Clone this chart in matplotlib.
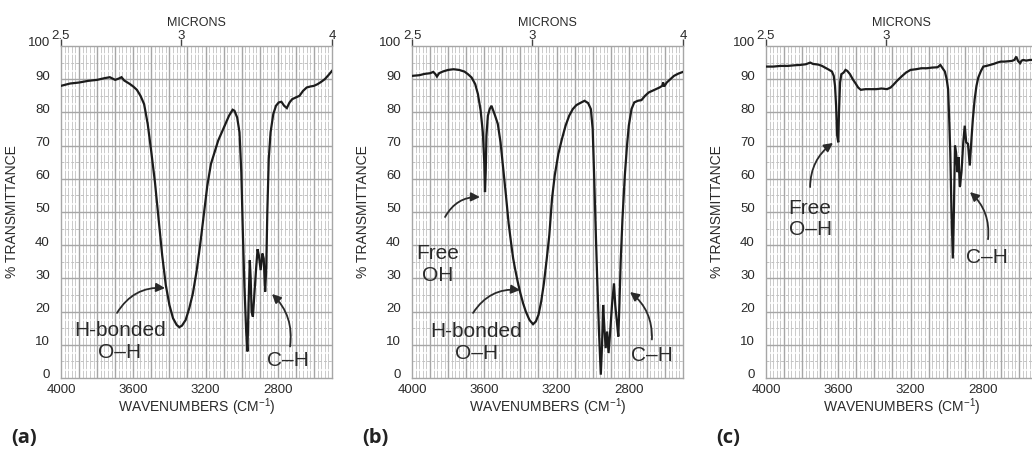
import numpy as np
import matplotlib
matplotlib.use("Agg")
import matplotlib.pyplot as plt
import matplotlib.transforms as mtransforms

plt.rcParams['font.family'] = ['Liberation Sans', 'DejaVu Sans']
plt.rcParams['mathtext.default'] = 'regular'

# ---- spectra (wavenumber cm-1, % transmittance) ----
wn_a = [4000, 3950, 3900, 3850, 3800, 3760, 3730, 3700, 3680, 3665, 3650, 3620, 3600,
        3580, 3560, 3540, 3520, 3500, 3480, 3460, 3440, 3420, 3400, 3380, 3360, 3345,
        3330, 3310, 3290, 3270, 3250, 3230, 3210, 3190, 3170, 3150, 3130, 3110, 3090,
        3070, 3050, 3040, 3025, 3012, 3002, 2994, 2985, 2975, 2968, 2962, 2955, 2950,
        2945, 2938, 2930, 2920, 2912, 2905, 2895, 2885, 2878, 2870, 2864, 2858, 2850,
        2840, 2825, 2810, 2795, 2780, 2765, 2750, 2735, 2720, 2700, 2680, 2660, 2640,
        2620, 2600, 2580, 2560, 2540, 2520, 2500]
tr_a = [88.0, 88.7, 89.0, 89.5, 89.8, 90.3, 90.6, 89.8, 90.2, 90.6, 89.6, 88.6, 87.8,
        86.8, 85.0, 82.5, 76.5, 68.0, 59.0, 48.0, 37.0, 28.0, 22.0, 18.0, 16.0, 15.3,
        15.8, 17.5, 21.0, 25.5, 32.0, 40.0, 49.0, 58.0, 64.5, 68.0, 71.5, 74.0, 76.5,
        79.0, 80.8, 80.5, 78.5, 74.0, 62.0, 45.0, 28.0, 14.0, 8.0, 22.0, 35.5, 30.0,
        20.0, 18.5, 25.0, 33.0, 38.8, 37.0, 32.5, 37.5, 36.0, 26.0, 33.0, 50.0, 66.0,
        74.0, 79.5, 82.0, 83.0, 83.2, 82.0, 81.3, 83.0, 84.0, 84.5, 85.0, 86.5, 87.5,
        87.8, 88.0, 88.5, 89.2, 90.0, 91.2, 92.5]

wn_b = [4000, 3960, 3930, 3900, 3882, 3870, 3862, 3850, 3830, 3800, 3770, 3740, 3710,
        3690, 3670, 3650, 3635, 3620, 3608, 3600, 3596, 3592, 3588, 3580, 3570, 3560,
        3550, 3540, 3525, 3510, 3495, 3480, 3465, 3450, 3440, 3430, 3415, 3400, 3385,
        3370, 3350, 3330, 3315, 3300, 3285, 3270, 3255, 3240, 3225, 3210, 3190, 3170,
        3150, 3130, 3110, 3090, 3070, 3045, 3025, 3010, 3000, 2993, 2985, 2975, 2965,
        2955, 2948, 2942, 2935, 2928, 2920, 2912, 2903, 2893, 2882, 2875, 2866, 2858,
        2852, 2845, 2835, 2822, 2810, 2800, 2785, 2770, 2750, 2730, 2710, 2690, 2670,
        2650, 2630, 2615, 2610, 2604, 2590, 2570, 2550, 2525, 2500]
tr_b = [91.0, 91.2, 91.6, 91.8, 92.2, 91.5, 90.8, 91.8, 92.3, 92.8, 93.0, 92.8, 92.3,
        91.5, 90.5, 88.5, 85.5, 80.5, 74.0, 65.0, 56.0, 62.0, 73.0, 79.0, 81.0, 82.0,
        80.5, 79.0, 76.5, 71.0, 63.0, 55.0, 46.5, 40.0, 36.0, 33.0, 29.0, 25.5, 22.5,
        20.0, 17.5, 16.2, 17.0, 19.0, 23.0, 28.5, 35.5, 43.0, 54.0, 61.0, 67.5, 72.0,
        76.0, 79.0, 81.0, 82.2, 82.8, 83.5, 82.8, 81.0, 75.0, 63.0, 48.0, 30.0, 14.0,
        1.0, 10.0, 22.0, 15.0, 9.0, 14.0, 7.5, 14.0, 22.0, 28.5, 22.0, 17.0, 12.5,
        22.0, 35.0, 48.0, 61.0, 70.0, 76.0, 81.0, 83.0, 83.5, 83.7, 85.0, 86.0, 86.5,
        87.0, 87.5, 88.0, 89.0, 87.8, 89.0, 90.0, 91.0, 91.7, 92.2]

wn_c = [4000, 3960, 3920, 3880, 3840, 3810, 3780, 3755, 3740, 3710, 3690, 3670, 3650,
        3635, 3625, 3618, 3612, 3606, 3600, 3596, 3590, 3583, 3570, 3560, 3550, 3535,
        3520, 3505, 3490, 3475, 3450, 3420, 3390, 3360, 3330, 3310, 3295, 3275, 3250,
        3225, 3200, 3170, 3140, 3110, 3080, 3050, 3035, 3025, 3010, 3000, 2992, 2986,
        2980, 2974, 2966, 2960, 2954, 2948, 2940, 2934, 2927, 2918, 2908, 2900, 2892,
        2882, 2872, 2864, 2855, 2845, 2835, 2825, 2810, 2797, 2780, 2760, 2740, 2720,
        2700, 2680, 2660, 2640, 2625, 2615, 2605, 2594, 2585, 2576, 2560, 2540, 2525,
        2500]
tr_c = [93.8, 93.8, 94.0, 94.0, 94.2, 94.3, 94.5, 95.0, 94.6, 94.4, 94.0, 93.4, 92.8,
        92.3, 91.0, 88.0, 82.0, 73.0, 71.0, 80.0, 89.0, 91.5, 92.0, 92.8, 92.5, 91.5,
        90.0, 88.8, 87.5, 86.8, 87.0, 87.0, 87.0, 87.2, 87.0, 87.5, 88.3, 89.5, 90.8,
        92.0, 92.8, 93.0, 93.3, 93.3, 93.5, 93.6, 94.3, 93.5, 92.3, 90.0, 87.0, 78.0,
        68.0, 52.0, 36.0, 50.0, 70.0, 68.0, 62.0, 66.5, 57.5, 62.0, 71.0, 76.0, 71.0,
        70.5, 64.0, 71.0, 78.0, 84.0, 88.0, 90.5, 92.5, 93.8, 94.0, 94.3, 94.6, 95.0,
        95.3, 95.3, 95.4, 95.5, 95.8, 96.8, 95.5, 94.8, 95.6, 95.8, 95.6, 95.8, 95.8,
        96.0]

panel_labels = ['(a)', '(b)', '(c)']
y_ticks = list(range(0, 101, 10))
x_ticks = [4000, 3600, 3200, 2800]
micron_ticks = [2.5, 3, 4]
micron_labels = ['2.5', '3', '4']

# annotations: (text, text position, arrow head or None, curvature)
notes_a = [('H-bonded\nO–H', (3675, 11.0), None, 0),
           ('', (3690, 19.6), (3424, 27.1), -0.3),
           ('C–H', (2744, 5.4), None, 0),
           ('', (2732, 9.5), (2832, 25.3), 0.25)]
notes_b = [('Free\nOH', (3856, 34.2), None, 0),
           ('', (3817, 48.5), (3624, 54.5), -0.3),
           ('H-bonded\nO–H', (3645, 10.7), None, 0),
           ('', (3662, 19.6), (3402, 26.5), -0.3),
           ('C–H', (2672, 6.9), None, 0),
           ('', (2672, 11.6), (2793, 25.9), 0.25)]
notes_c = [('Free\nO–H', (3756, 47.8), None, 0),
           ('', (3756, 57.5), (3629, 70.8), -0.25),
           ('C–H', (2777, 36.4), None, 0),
           ('', (2771, 41.8), (2871, 56.0), 0.25)]

TXT = '#2a2a2a'
MAJOR = '#a6a6a6'
MINOR = '#c2c2c2'


def draw_panel(fig, ax, wn, tr, notes, label, show_last_micron=True):
    ax.set_xlim(4000, 2500)
    ax.set_ylim(0, 100)

    # graph paper
    minor_x = [v for v in range(2520, 4000, 20) if v % 100 != 0]
    ax.vlines(minor_x, 0, 100, color=MINOR, lw=0.6, zorder=1)
    breaks = [v + d for v in range(0, 100, 10) for d in (2.5, 7.5)]
    ax.hlines(breaks, 4000, 2500, color='white', lw=1.1, zorder=1.5)
    ax.hlines(np.arange(5, 100, 10), 4000, 2500, color=MINOR, lw=0.7,
              linestyles=(0, (3, 2)), zorder=2)
    ax.vlines(np.arange(2600, 4000, 100), 0, 100, color=MAJOR, lw=1.0, zorder=2)
    ax.hlines(np.arange(10, 100, 10), 4000, 2500, color=MAJOR, lw=1.0, zorder=2)
    for s in ax.spines.values():
        s.set_color(MAJOR)
        s.set_linewidth(1.0)

    ax.plot(wn, tr, color='#1c1c1c', lw=1.6, zorder=5, solid_joinstyle='miter')

    ax.set_xticks(x_ticks)
    ax.set_yticks(y_ticks)
    ax.tick_params(length=0, labelsize=9.5, labelcolor=TXT)
    ax.tick_params(axis='y', pad=8)
    ax.tick_params(axis='x', pad=4)
    # y labels sit a little above their grid lines, as on the chart paper
    up = mtransforms.ScaledTranslation(0, 4 / 100, fig.dpi_scale_trans)
    for t in ax.get_yticklabels():
        t.set_transform(t.get_transform() + up)
    ax.set_xlabel('WAVENUMBERS (CM$^{-1}$)', fontsize=10, color=TXT)
    ax.xaxis.set_label_coords(0.5, -0.055)
    ax.set_ylabel('% TRANSMITTANCE', fontsize=10, color=TXT)
    ax.yaxis.set_label_coords(-0.155, 0.5)

    sec = ax.secondary_xaxis('top', functions=(lambda w: 1e4 / w, lambda m: 1e4 / m))
    n = len(micron_ticks) if show_last_micron else len(micron_ticks) - 1
    sec.set_xticks(micron_ticks[:n])
    sec.set_xticklabels(micron_labels[:n])
    sec.tick_params(length=5, width=1.0, color='#444444', pad=-2,
                    labelsize=9.5, labelcolor=TXT)
    sec.spines['top'].set_visible(False)
    sec.set_xlabel('MICRONS', fontsize=9, color=TXT, labelpad=3)

    for text, pos, head, rad in notes:
        if head is None:
            ax.text(pos[0], pos[1], text, fontsize=15, color=TXT, ha='center',
                    va='center', linespacing=1.15, zorder=6)
        else:
            ax.annotate('', xy=head, xytext=pos,
                        arrowprops=dict(arrowstyle='-|>', color='#2a2a2a', lw=1.3,
                                        mutation_scale=13, shrinkA=0, shrinkB=0,
                                        connectionstyle=f'arc3,rad={rad}'),
                        zorder=6)

    ax.text(-0.185, -0.18, label, transform=ax.transAxes, fontsize=14.5,
            fontweight='bold', color='#222222', family='Open Sans', va='center')


fig = plt.figure(figsize=(10.32, 4.5), dpi=100)
lefts = [61, 412, 766]
data = [(wn_a, tr_a, notes_a), (wn_b, tr_b, notes_b), (wn_c, tr_c, notes_c)]
for i, (left, (wn, tr, notes), lab) in enumerate(zip(lefts, data, panel_labels)):
    ax = fig.add_axes([left / 1032, 1 - 378 / 450, 271 / 1032, 332 / 450])
    draw_panel(fig, ax, wn, tr, notes, lab, show_last_micron=(i < 2))

fig.savefig('out.png', dpi=100)
